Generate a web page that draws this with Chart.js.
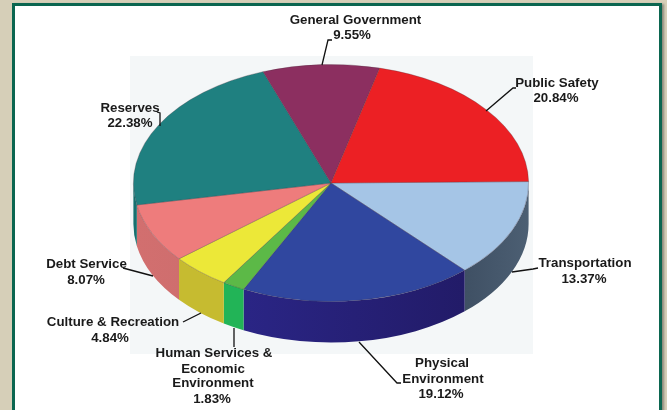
<!DOCTYPE html>
<html>
<head>
<meta charset="utf-8">
<script src="https://cdn.jsdelivr.net/npm/chart.js@4"></script>
<style>
html,body{margin:0;padding:0;background:#d6cfb8;overflow:hidden}
#wrap{position:relative;width:667px;height:410px}
#frame{position:absolute;left:12px;top:3px;width:644px;height:420px;background:#fff;border:3px solid #0b6650;box-shadow:2px 1px 2px #8d8a7c}
canvas{position:absolute;left:0;top:0}
</style>
</head>
<body>
<div id="wrap"><div id="frame"></div><canvas id="c" width="667" height="410"></canvas></div>
<script>
const categories = ["Transportation","Physical Environment","Human Services & Economic Environment","Culture & Recreation","Debt Service","Reserves","General Government","Public Safety"];
const shares = [13.37,19.12,1.83,4.84,8.07,22.38,9.55,20.84];
const topColors = ["#a5c5e6","#30479f","#5cb947","#ece838","#ee7c7c","#1f8080","#8c2f60","#ec2024"];
const wallColors = [["#4c5f73","#3f5064"],["#221b68","#2a2585"],["#22b457","#22b457"],["#c6bb30","#c6bb30"],["#cf6e6e","#d26f6f"],["#15706f","#15706f"],["#6e2449","#6e2449"],["#b91a1d","#b91a1d"]];
const labelLines = [["Transportation"],["Physical","Environment"],["Human Services &","Economic","Environment"],["Culture & Recreation"],["Debt Service"],["Reserves"],["General Government"],["Public Safety"]];
// label centre x, line y, and the callout lines (page annotations, in pixels)
const labelX = [[585,584],[442,443,441],[214,213,213,212],[113,110],[86.5,86],[130,130],[355.5,352],[557,556]];
const labelY = [[263,279],[363,379,394],[353,369,383,399],[322,338],[264,280],[108,123],[20,35],[83,98]];
const leaders = [[[512,272],[533,269],[538,268]],[[359,342],[397,383],[401,383]],[[234,328],[234,347]],[[201,313],[183,322]],[[153,276],[123,268]],[[160,126],[160,113],[157,112]],[[322,65],[328,40],[332,40]],[[486,111],[513,88],[516,88]]];

const centerX = 331, centerY = 183, squash = 0.6, depth = 41;

function tilt(chart){
  const a = chart.getDatasetMeta(0).data[0];
  const ctx = chart.ctx;
  ctx.translate(centerX, centerY);
  ctx.scale(1, squash);
  ctx.translate(-a.x, -a.y);
}

const tiltedPie = {
  id:"tiltedPie",
  beforeDraw(chart){
    const ctx = chart.ctx;
    ctx.save();
    ctx.fillStyle = "#f4f7f8";
    ctx.fillRect(130,56,403,298);
    ctx.restore();
  },
  beforeDatasetsDraw(chart){
    const ctx = chart.ctx;
    const arcs = chart.getDatasetMeta(0).data;
    ctx.save();
    tilt(chart);
    const D = depth / squash;
    arcs.forEach((arc,i)=>{
      const p = arc.getProps(["x","y","startAngle","endAngle","outerRadius"],true);
      const a = Math.max(p.startAngle,0), b = Math.min(p.endAngle,Math.PI);
      if (b <= a) return;
      const x1 = p.x + p.outerRadius*Math.cos(a), x2 = p.x + p.outerRadius*Math.cos(b);
      const g = ctx.createLinearGradient(x2,0,x1,0);
      g.addColorStop(0,wallColors[i][1]);
      g.addColorStop(1,wallColors[i][0]);
      ctx.beginPath();
      ctx.arc(p.x,p.y,p.outerRadius,a,b);
      ctx.arc(p.x,p.y+D,p.outerRadius,b,a,true);
      ctx.closePath();
      ctx.fillStyle = g;
      ctx.fill();
    });
    ctx.restore();
    ctx.save();
    tilt(chart);
  },
  afterDatasetsDraw(chart){
    chart.ctx.restore();
  },
  afterDraw(chart){
    const ctx = chart.ctx;
    ctx.save();
    ctx.strokeStyle = "#111";
    ctx.lineWidth = 1.3;
    leaders.forEach(pts=>{
      ctx.beginPath();
      pts.forEach((q,j)=> j ? ctx.lineTo(q[0],q[1]) : ctx.moveTo(q[0],q[1]));
      ctx.stroke();
    });
    ctx.fillStyle = "#1a1a1a";
    ctx.font = "bold 13.3px 'Liberation Sans'";
    ctx.textAlign = "center";
    ctx.textBaseline = "middle";
    categories.forEach((c,i)=>{
      const lines = labelLines[i].concat([shares[i].toFixed(2)+"%"]);
      lines.forEach((t,j)=> ctx.fillText(t,labelX[i][j],labelY[i][j]));
    });
    ctx.restore();
  }
};

new Chart(document.getElementById("c"),{
  type:"pie",
  data:{labels:categories,datasets:[{data:shares,backgroundColor:topColors,borderColor:"rgba(70,50,60,0.45)",borderWidth:0.8}]},
  options:{
    responsive:false,
    animation:false,
    rotation:89.3,
    layout:{padding:{left:133,right:138,top:7,bottom:7}},
    plugins:{legend:{display:false},tooltip:{enabled:false},title:{display:false}}
  },
  plugins:[tiltedPie]
});
</script>
</body>
</html>
